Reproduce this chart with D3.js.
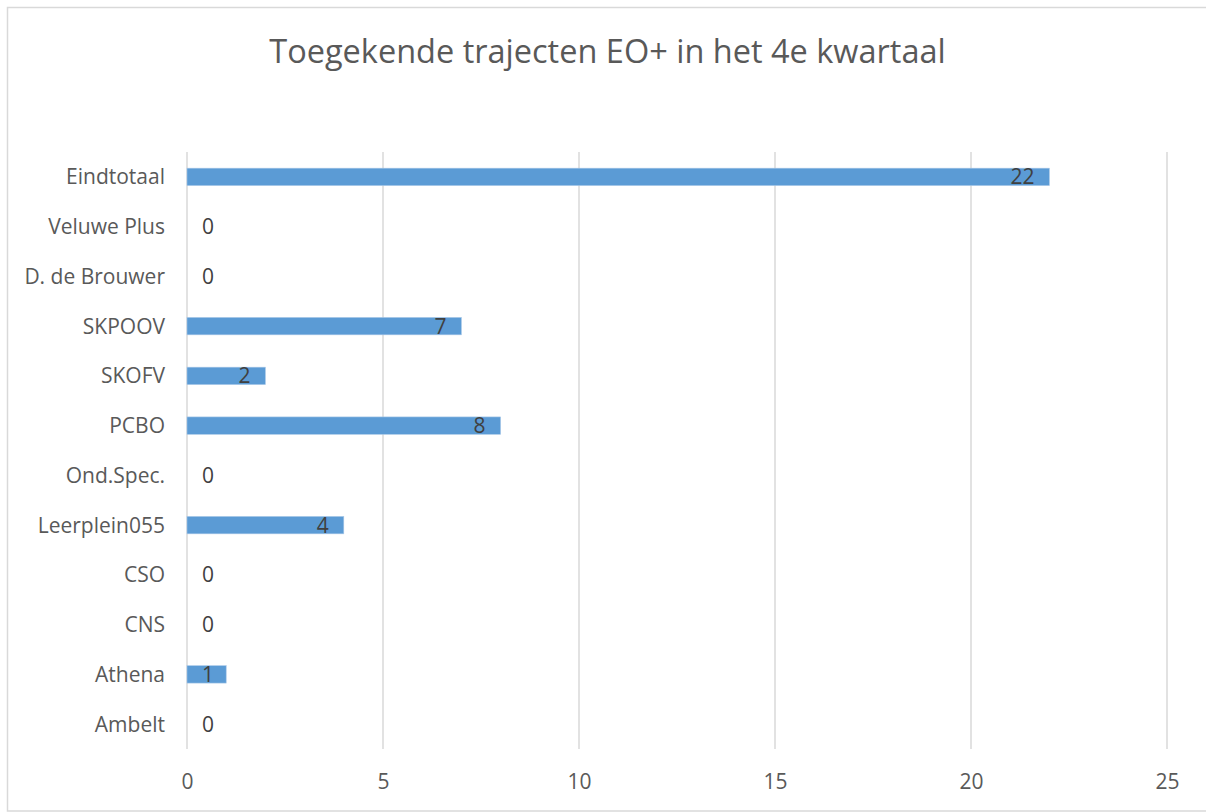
<!DOCTYPE html>
<html>
<head>
<meta charset="utf-8">
<script src="https://cdn.jsdelivr.net/npm/d3@7"></script>
<style>
  html, body { margin: 0; padding: 0; background: #fff; }
  svg { display: block; }
  text { font-family: "Open Sans", sans-serif; }
</style>
</head>
<body>
<svg id="chart" width="1206" height="812"></svg>
<script>
const title = "Toegekende trajecten EO+ in het 4e kwartaal";
const categories = ["Eindtotaal", "Veluwe Plus", "D. de Brouwer", "SKPOOV", "SKOFV", "PCBO", "Ond.Spec.", "Leerplein055", "CSO", "CNS", "Athena", "Ambelt"];
const values = [22, 0, 0, 7, 2, 8, 0, 4, 0, 0, 1, 0];
const xTicks = [0, 5, 10, 15, 20, 25];

const svg = d3.select("#chart");
const W = 1206, H = 812;

// chart area border
svg.append("rect")
  .attr("x", 7.5).attr("y", 7.5)
  .attr("width", 1205).attr("height", 803.5)
  .attr("fill", "#fff").attr("stroke", "#d9d9d9").attr("stroke-width", 1.5);

const plot = { left: 187, right: 1167, top: 152, bottom: 749 };

const x = d3.scaleLinear().domain([0, 25]).range([plot.left, plot.right]);
const y = d3.scaleBand().domain(categories).range([plot.top, plot.bottom]).paddingInner(0.65).paddingOuter(0.325);

// title
svg.append("text")
  .attr("x", 607.5).attr("y", 63)
  .attr("text-anchor", "middle")
  .attr("fill", "#595959")
  .attr("font-size", 32.5)
  .text(title);

// gridlines
svg.append("g").selectAll("line").data(xTicks).join("line")
  .attr("x1", d => x(d)).attr("x2", d => x(d))
  .attr("y1", plot.top).attr("y2", plot.bottom)
  .attr("stroke", "#d9d9d9").attr("stroke-width", 1.5);

// x axis labels
const xAxis = d3.axisBottom(x).tickValues(xTicks).tickSize(0).tickPadding(0);
const gx = svg.append("g").attr("transform", `translate(0,${plot.bottom})`).call(xAxis);
gx.select(".domain").remove();
gx.selectAll("text")
  .attr("font-family", "Open Sans, sans-serif")
  .attr("font-size", 21)
  .attr("fill", "#595959")
  .attr("dy", null)
  .attr("y", 39.5);

// y axis labels
const yAxis = d3.axisLeft(y).tickSize(0).tickPadding(0);
const gy = svg.append("g").attr("transform", `translate(${plot.left - 22},0)`).call(yAxis);
gy.select(".domain").remove();
gy.selectAll("text")
  .attr("font-family", "Open Sans, sans-serif")
  .attr("font-size", 21)
  .attr("fill", "#595959")
  .attr("dy", "0.36em");

// bars
svg.append("g").selectAll("rect").data(categories).join("rect")
  .attr("x", x(0))
  .attr("y", d => y(d))
  .attr("width", (d, i) => x(values[i]) - x(0))
  .attr("height", y.bandwidth())
  .attr("fill", "#5b9bd5")
  .attr("stroke", (d, i) => values[i] > 0 ? "#a9c8e8" : "none")
  .attr("stroke-width", 0.6);

// data labels
svg.append("g").selectAll("text").data(categories).join("text")
  .attr("font-size", 21)
  .attr("fill", "#404040")
  .attr("text-anchor", "end")
  .attr("y", d => y(d) + y.bandwidth() / 2)
  .attr("dy", "0.36em")
  .text((d, i) => values[i])
  .each(function(d, i) {
    const w = this.getComputedTextLength();
    const xe = Math.max(x(values[i]) - 15, x(0) + 15 + w);
    d3.select(this).attr("x", xe);
  });
</script>
</body>
</html>
